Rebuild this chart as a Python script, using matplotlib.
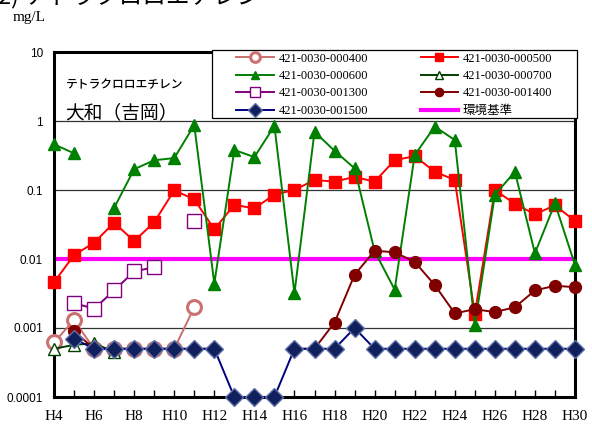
import numpy as np
import matplotlib.pyplot as plt
from matplotlib.lines import Line2D
from matplotlib.patches import Rectangle

nan = np.nan

years = list(range(4, 31))
x_labels = ['H%d' % y for y in range(4, 31, 2)]
y_ticks = [0.0001, 0.001, 0.01, 0.1, 1, 10]
y_labels = ['0.0001', '0.001', '0.01', '0.1', '1', '10']

s400 = [0.00062, 0.0013, 0.0005, 0.0005, 0.0005, 0.0005, 0.0005, 0.002] + [nan] * 19
s500 = [0.0046, 0.0114, 0.0172, 0.0336, 0.0182, 0.034, 0.099, 0.073, 0.027,
        0.061, 0.054, 0.086, 0.1, 0.14, 0.132, 0.155, 0.132, 0.27, 0.31,
        0.184, 0.14, 0.0016, 0.1, 0.063, 0.0445, 0.06, 0.0356]
s600 = [0.46, 0.34, nan, 0.055, 0.2, 0.27, 0.29, 0.87, 0.0044, 0.38, 0.3,
        0.85, 0.0032, 0.7, 0.37, 0.206, 0.013, 0.0036, 0.32, 0.83, 0.53,
        0.0011, 0.085, 0.184, 0.0121, 0.064, 0.0082]
s700 = [0.0005, 0.00057, 0.0006, 0.00045] + [nan] * 23
s1300 = [nan, 0.0023, 0.0019, 0.0035, 0.0066, 0.0076, nan, 0.035] + [nan] * 19
s1400 = ([nan, 0.0009] + [0.0005] * 7 + [nan] * 3 + [0.0005] * 2 +
         [0.0012, 0.0059, 0.0132, 0.0125, 0.0091, 0.0042, 0.00163, 0.00187,
          0.0017, 0.002, 0.0035, 0.0041, 0.0039])
s1500 = ([nan, 0.0007] + [0.0005] * 7 + [0.0001] * 3 + [0.0005] * 3 +
         [0.001] + [0.0005] * 11)
standard = 0.01

names = ['421-0030-000400', '421-0030-000500', '421-0030-000600',
         '421-0030-000700', '421-0030-001300', '421-0030-001400',
         '421-0030-001500']
std_name = '環境基準'

serif = ['Liberation Serif', 'Noto Sans CJK JP']
cjk = ['Noto Sans CJK JP', 'DejaVu Sans']

fig = plt.figure(figsize=(5.92, 4.24), dpi=100)
ax = fig.add_axes([54 / 592, 1 - 397 / 424, 521 / 592, 345 / 424])
ax.set_yscale('log')
ax.set_ylim(0.0001, 10)
ax.set_xlim(4, 30)

for v in [0.001, 0.01, 0.1, 1]:
    ax.axhline(v, color='#333333', lw=0.9, zorder=1)

std_line = ax.axhline(standard, color='#FF00FF', lw=3, zorder=2)

styles = [
    dict(color='#CD6E6E', marker='o', mfc='white', mec='#CD7070', ms=10, mew=2.2),
    dict(color='#FF0000', marker='s', mfc='#FF0000', mec='#FF0000', ms=9),
    dict(color='#008000', marker='^', mfc='#008000', mec='#008000', ms=9),
    dict(color='#004000', marker='^', mfc='white', mec='#004000', ms=9, mew=1),
    dict(color='#800080', marker='s', mfc='white', mec='#800080', ms=10, mew=1),
    dict(color='#800000', marker='o', mfc='#800000', mec='#800000', ms=8.5),
    dict(color='#000080', marker='D', mfc='#10205C', mec='#6070A8', ms=9.5, mew=1),
]
series = [s400, s500, s600, s700, s1300, s1400, s1500]
for i, (vals, st) in enumerate(zip(series, styles)):
    ax.plot(years, vals, lw=1.4, clip_on=False, zorder=3 + i, **st)

# y axis
ax.yaxis.set_minor_locator(plt.NullLocator())
ax.set_yticks(y_ticks)
ax.set_yticklabels(y_labels, fontsize=8.5, family='Liberation Sans')
ax.tick_params(axis='y', length=0, pad=8)

# x axis
ax.set_xticks(range(4, 31, 2))
ax.set_xticklabels(x_labels, fontsize=11, family='Liberation Serif')
ax.set_xticks(range(4, 31), minor=True)
ax.tick_params(axis='x', which='both', direction='in', length=5, width=1,
               pad=9)

for sp in ax.spines.values():
    sp.set_linewidth(2.2)

# legend box drawn separately (Excel style padding)
box = Rectangle((212 / 592, 1 - 118 / 424), 365 / 592, 68 / 424,
                transform=fig.transFigure, facecolor='white',
                edgecolor='black', lw=0.9, clip_on=False, zorder=19)
ax.add_patch(box)

leg_handles = []
for st in styles:
    leg_handles.append(Line2D([], [], lw=1.4, **dict(st, ms=st['ms'] * 0.7)))
std_h = Line2D([], [], color='#FF00FF', lw=3)
order = [0, 2, 4, 6, 1, 3, 5]
hs = [leg_handles[k] for k in order] + [std_h]
ls = [names[k] for k in order] + [std_name]
leg = ax.legend(hs, ls, ncol=2, loc='upper left',
                bbox_to_anchor=(236 / 592, 1 - 52.5 / 424),
                bbox_transform=fig.transFigure, borderaxespad=0,
                frameon=False, prop={'family': serif, 'size': 9},
                handlelength=3, handletextpad=0.4, columnspacing=4.2,
                labelspacing=0.44, borderpad=0)
leg.set_zorder(20)

ax.text(0.022, 0.905, 'テトラクロロエチレン', transform=ax.transAxes,
        family=cjk, fontsize=8.5, weight='medium', va='center')
ax.text(0.022, 0.825, '大和（吉岡）', transform=ax.transAxes,
        family=cjk, fontsize=13.5, va='center')

fig.text(13 / 592, 1 - 17 / 424, 'mg/L', family='Liberation Serif',
         fontsize=11, va='center')
fig.text(-2 / 592, 1 - 3 / 424, '2) テトラクロロエチレン', family=cjk,
         fontsize=17, va='baseline')

fig.savefig('out.png', dpi=100)
